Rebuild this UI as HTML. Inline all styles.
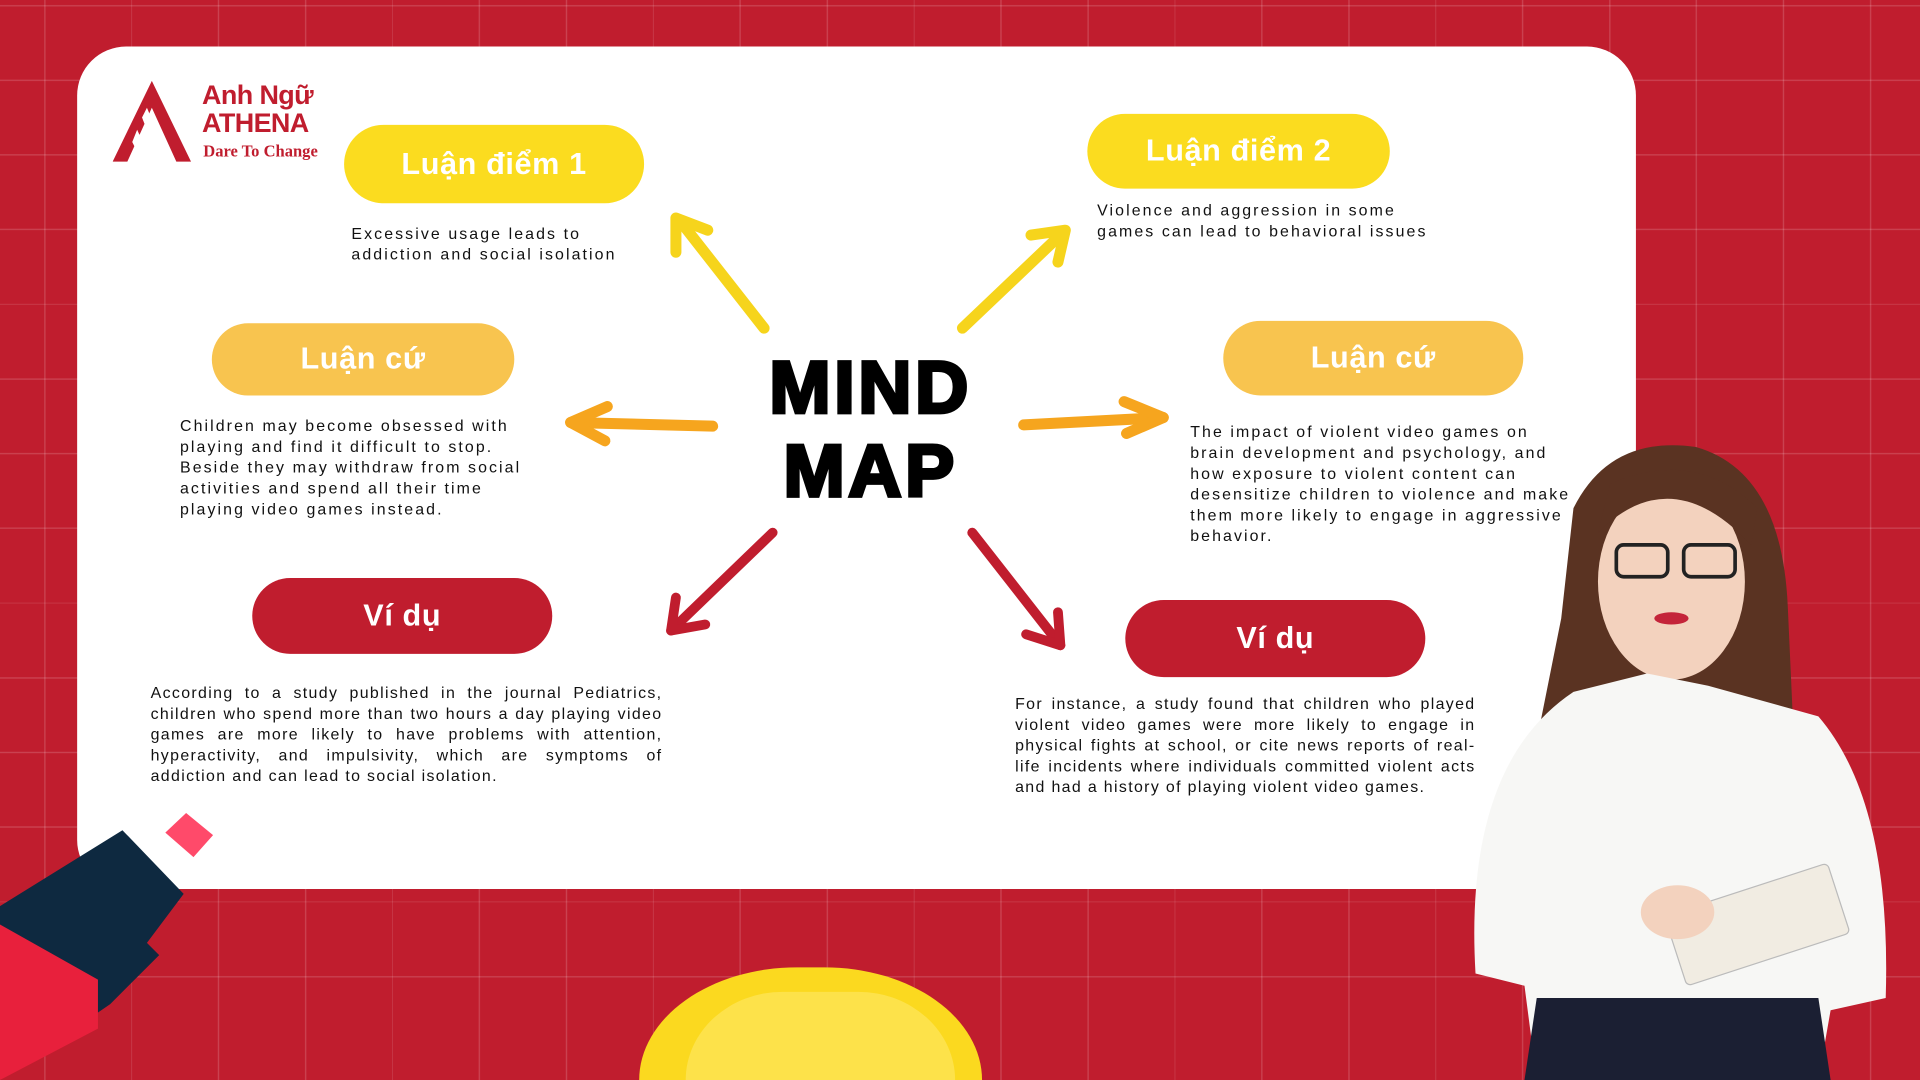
<!DOCTYPE html>
<html><head><meta charset="utf-8">
<style>
html,body{margin:0;padding:0;width:1920px;height:1080px;overflow:hidden;background:#c01d2e;}
#outer{position:absolute;left:0;top:0;width:1920px;height:1080px;overflow:hidden;}
#w{position:absolute;left:0;top:0;width:1568px;height:882px;overflow:hidden;transform:scale(1.22449);transform-origin:0 0;font-family:"Liberation Sans","DejaVu Sans",sans-serif;
background-color:#c01d2e;
background-image:
repeating-linear-gradient(90deg, transparent 0 70px, rgba(255,255,255,.16) 70px 71px, transparent 71px 71px),
repeating-linear-gradient(0deg, transparent 0 60px, rgba(255,255,255,.16) 60px 61px);
background-position:-34px 0,0 -24px;}
.panel{position:absolute;left:63px;top:38px;width:1273px;height:688px;background:#fff;border-radius:40px;}
.pill{position:absolute;border-radius:34px;color:#fff;font-weight:bold;font-size:25px;text-align:center;letter-spacing:.5px;}
.y{background:#fbdc1f}.o{background:#f8c44f}.r{background:#c01d2e}
.t{position:absolute;font-size:13px;color:#111;letter-spacing:1.7px;line-height:17px;white-space:nowrap;}
.j{text-align:justify;text-align-last:left;white-space:normal;}
</style></head><body><div id="outer"><div id="w">
<div class="panel"></div>
<svg style="position:absolute;left:92px;top:66px" width="66" height="68" viewBox="0 0 66 68">
<polygon points="32,0 64,66 52,66 32,22 12,66 0,66" fill="#c01d2e"/>
<polygon points="28,22 44,60 38,66 24,30" fill="#fff"/>
<polygon points="20,40 32,66 24,66 16,50" fill="#fff"/>
</svg>
<div style="position:absolute;left:165px;top:66px;color:#c01d2e;font-weight:bold;font-size:22px;line-height:23px;letter-spacing:-.5px;">Anh Ngữ<br>ATHENA</div>
<div style="position:absolute;left:166px;top:116px;color:#c01d2e;font-family:'Liberation Serif',serif;font-weight:bold;font-size:13.5px;">Dare To Change</div>

<div class="pill y" style="left:281px;top:102px;width:245px;height:64px;line-height:64px;">Luận điểm 1</div>
<div class="pill y" style="left:888px;top:93px;width:247px;height:61px;line-height:61px;">Luận điểm 2</div>
<div class="pill o" style="left:173px;top:264px;width:247px;height:59px;line-height:59px;">Luận cứ</div>
<div class="pill o" style="left:999px;top:262px;width:245px;height:61px;line-height:61px;">Luận cứ</div>
<div class="pill r" style="left:206px;top:472px;width:245px;height:62px;line-height:62px;">Ví dụ</div>
<div class="pill r" style="left:919px;top:490px;width:245px;height:63px;line-height:63px;">Ví dụ</div>

<div class="t" style="left:287px;top:182px;">Excessive usage leads to<br>addiction and social isolation</div>
<div class="t" style="left:896px;top:163px;">Violence and aggression in some<br>games can lead to behavioral issues</div>
<div class="t" style="left:147px;top:339px;">Children may become obsessed with<br>playing and find it difficult to stop.<br>Beside they may withdraw from social<br>activities and spend all their time<br>playing video games instead.</div>
<div class="t" style="left:972px;top:344px;">The impact of violent video games on<br>brain development and psychology, and<br>how exposure to violent content can<br>desensitize children to violence and make<br>them more likely to engage in aggressive<br>behavior.</div>
<div class="t j" style="left:123px;top:557px;width:418px;letter-spacing:1.1px;">According to a study published in the journal Pediatrics, children who spend more than two hours a day playing video games are more likely to have problems with attention, hyperactivity, and impulsivity, which are symptoms of addiction and can lead to social isolation.</div>
<div class="t j" style="left:829px;top:566px;width:376px;letter-spacing:1.1px;">For instance, a study found that children who played violent video games were more likely to engage in physical fights at school, or cite news reports of real-life incidents where individuals committed violent acts and had a history of playing violent video games.</div>

<div style="position:absolute;left:590px;top:283px;width:242px;text-align:center;font-weight:900;font-size:60px;line-height:68px;color:#000;letter-spacing:3px;-webkit-text-stroke:3px #000;">MIND<br>MAP</div>

<svg style="position:absolute;left:0;top:0" width="1568" height="882" fill="none" stroke-linecap="round" stroke-linejoin="round">
<g stroke="#f6d41c" stroke-width="9">
<path d="M624,268 L555,180"/><path d="M552,206 L552,178 L578,188"/>
<path d="M786,268 L868,190"/><path d="M842,192 L870,188 L864,214"/>
</g>
<g stroke="#f6a51e" stroke-width="9">
<path d="M582,348 L466,345"/><path d="M496,332 L466,345 L494,360"/>
<path d="M836,347 L950,341"/><path d="M918,328 L950,341 L920,354"/>
</g>
<g stroke="#c01d2e" stroke-width="8">
<path d="M631,435 L548,515"/><path d="M552,488 L548,515 L576,510"/>
<path d="M794,435 L866,527"/><path d="M838,518 L866,527 L864,500"/>
</g>
</svg>

<div style="position:absolute;left:522px;top:790px;width:280px;height:92px;border-radius:140px 140px 0 0/100px 100px 0 0;background:#fbd91f;"></div>
<div style="position:absolute;left:560px;top:810px;width:220px;height:72px;border-radius:110px 110px 0 0/100px 100px 0 0;background:#fde24a;"></div>

<svg style="position:absolute;left:0;top:660px" width="180" height="222">
<polygon points="0,80 90,150 0,222" fill="#ff3b5c"/>
<polygon points="0,80 100,18 150,70 120,110 130,120 90,160 0,222" fill="#0e2940"/>
<polygon points="0,95 80,140 80,180 0,222" fill="#e8203c"/>
<polygon points="135,20 152,4 174,22 158,40" fill="#ff4a6a"/>
</svg>

<svg style="position:absolute;left:1195px;top:355px" width="373" height="527">
<path d="M90,60 Q120,0 190,10 Q260,30 265,140 L270,250 L60,250 L80,150 Z" fill="#5a3322"/>
<ellipse cx="170" cy="120" rx="60" ry="80" fill="#f3d2be"/>
<path d="M110,80 Q170,20 235,90 L240,60 Q190,10 120,40 Z" fill="#5a3322"/>
<rect x="125" y="90" width="42" height="26" rx="6" fill="none" stroke="#222" stroke-width="3"/>
<rect x="180" y="90" width="42" height="26" rx="6" fill="none" stroke="#222" stroke-width="3"/>
<ellipse cx="170" cy="150" rx="14" ry="5" fill="#c4243a"/>
<path d="M10,440 Q0,270 90,210 L150,195 L200,205 L290,230 Q350,300 345,460 L300,470 L290,527 L60,527 L50,450 Z" fill="#f7f7f5"/>
<path d="M60,460 L290,460 L300,527 L50,527 Z" fill="#1b1f33"/>
<rect x="170" y="370" width="140" height="60" rx="4" transform="rotate(-18 240 400)" fill="#f1ece2" stroke="#bbb"/>
<ellipse cx="175" cy="390" rx="30" ry="22" fill="#f3d2be"/>
</svg>
</div></div></body></html>
